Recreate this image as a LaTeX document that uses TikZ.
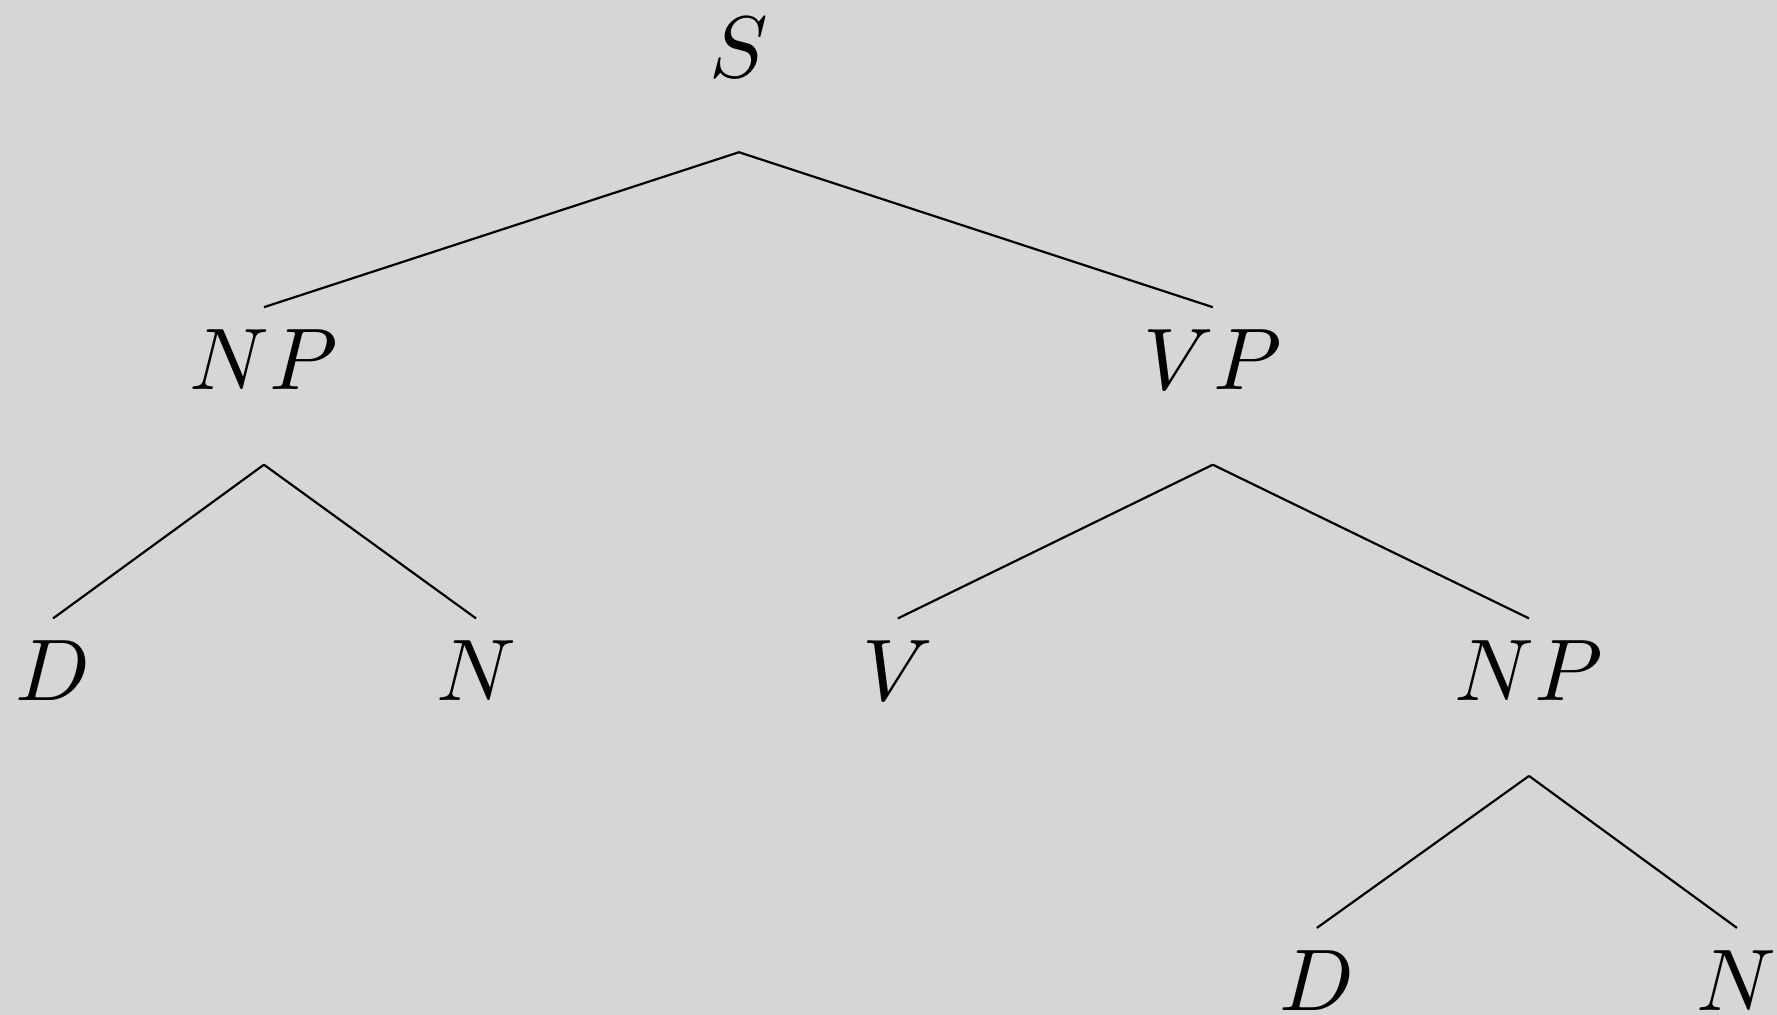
\documentclass[tikz,border=0pt]{standalone}
\usepackage{tikz}
\usepackage{amssymb}
\usepackage{amsmath}

\definecolor{paper}{HTML}{D6D6D6}

\begin{document}
\begin{tikzpicture}[cat/.style={anchor=base, inner sep=0pt, text height=9.3pt, text depth=8.45pt}, line width=0.25pt]
 \useasboundingbox (0, 0) rectangle (7.137, -4.076);
 \fill[paper] (0, 0) rectangle (7.137, -4.076);

 \draw (2.968, -0.31) node[cat] (S) {$S$};
 \draw (1.060, -1.565) node[cat] (NPa) {$NP$};
 \draw (4.871, -1.565) node[cat] (VP) {$VP$};
 \draw (0.213, -2.815) node[cat] (Da) {$D$};
 \draw (1.912, -2.815) node[cat] (Na) {$N$};
 \draw (3.606, -2.815) node[cat] (V) {$V$};
 \draw (6.141, -2.815) node[cat] (NPb) {$NP$};
 \draw (5.289, -4.058) node[cat] (Db) {$D$};
 \draw (6.976, -4.058) node[cat] (Nb) {$N$};

 \draw (S.south) -- (NPa.north);
 \draw (S.south) -- (VP.north);
 \draw (NPa.south) -- (Da.north);
 \draw (NPa.south) -- (Na.north);
 \draw (VP.south) -- (V.north);
 \draw (VP.south) -- (NPb.north);
 \draw (NPb.south) -- (Db.north);
 \draw (NPb.south) -- (Nb.north);
\end{tikzpicture}
\end{document}
